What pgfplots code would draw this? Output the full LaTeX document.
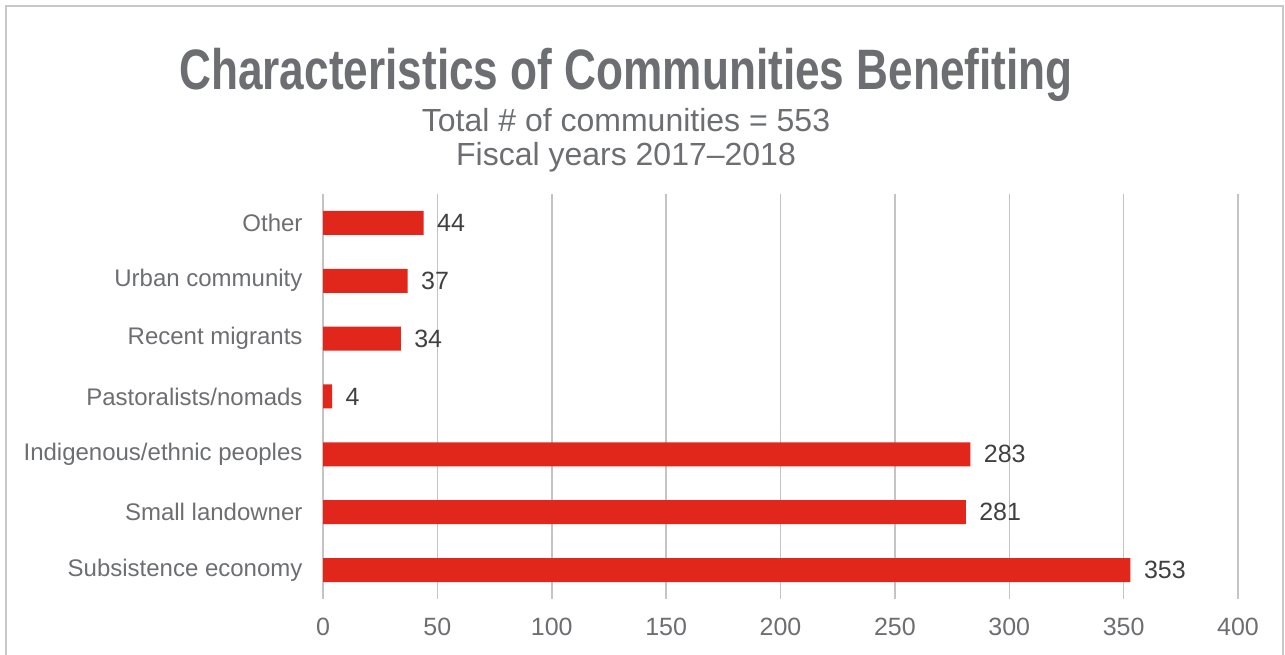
\documentclass[border=0pt]{standalone}
\usepackage{pgfplots}
\pgfplotsset{compat=1.18}
\usepackage{fontspec}
\setmainfont{Liberation Sans}
\definecolor{titlegray}{HTML}{6D6E71}
\definecolor{barred}{HTML}{E1261C}
\definecolor{gridgray}{HTML}{C4C4C4}
\definecolor{labeldark}{HTML}{404040}
\definecolor{bordergray}{HTML}{C8C8C8}
\begin{document}
\begin{tikzpicture}[x=1pt,y=1pt]
\useasboundingbox (0,0) rectangle (1285,655);
\draw[bordergray, line width=2pt] (6,-5) -- (6,649) -- (1283,649) -- (1283,-5);
\node[text=titlegray, font=\fontsize{57}{60}\selectfont\bfseries, anchor=base, inner sep=0pt] at (626,565) {\scalebox{0.775}[1]{Characteristics of Communities Benefiting}};
\node[text=titlegray, font=\fontsize{32}{34}\selectfont, anchor=base, inner sep=0pt] at (626,523) {Total \# of communities = 553};
\node[text=titlegray, font=\fontsize{32}{34}\selectfont, anchor=base, inner sep=0pt] at (626,489) {Fiscal years 2017--2018};
\begin{axis}[
  at={(323pt,56pt)}, anchor=south west,
  width=915pt, height=405pt, scale only axis,
  xbar, bar width=24pt,
  xmin=0, xmax=400, ymin=-0.5, ymax=6.5,
  ytick={0,...,6},
  yticklabels={Subsistence economy, Small landowner, Indigenous/ethnic peoples, Pastoralists/nomads, Recent migrants, Urban community, Other},
  xtick={0,50,...,400},
  xmajorgrids, grid style={gridgray, line width=1.5pt},
  axis line style={draw=none},
  major tick length=0pt,
  xticklabel style={font=\fontsize{25}{30}\selectfont, text=titlegray, yshift=-16pt},
  yticklabel style={font=\fontsize{24}{30}\selectfont, text=titlegray, xshift=-17pt},
  /pgf/number format/assume math mode=true,
  nodes near coords,
  nodes near coords style={font=\fontsize{25}{30}\selectfont, text=labeldark, anchor=west, xshift=10pt},
]
\addplot[fill=barred, draw=none] coordinates {(353,0) (281,1) (283,2) (4,3) (34,4) (37,5) (44,6)};
\end{axis}
\end{tikzpicture}
\end{document}
